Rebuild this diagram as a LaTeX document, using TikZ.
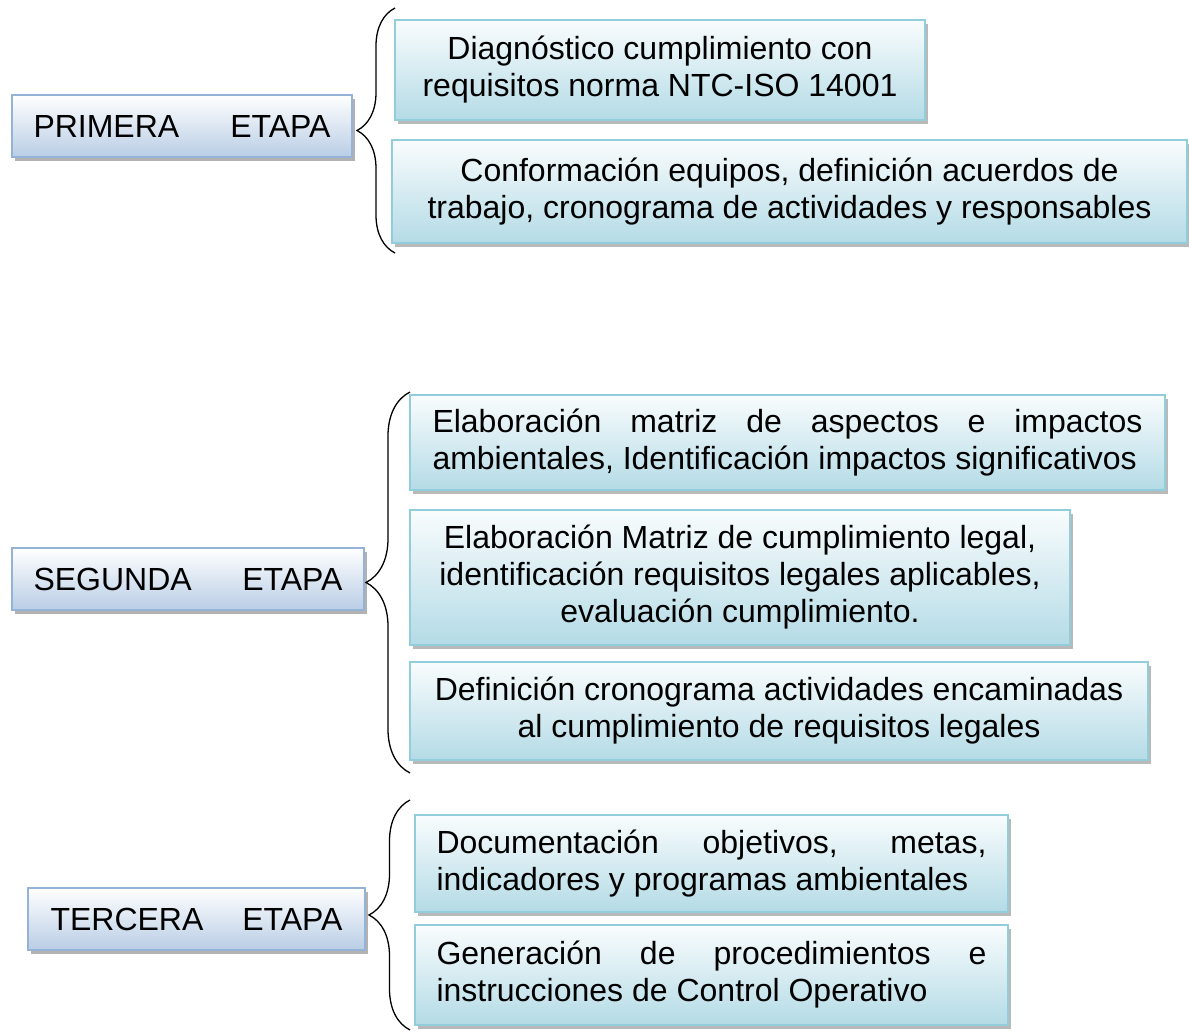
\documentclass[tikz,border=0pt]{standalone}
\usepackage{fontspec}
\setmainfont{Liberation Sans}
\usetikzlibrary{shadows,decorations.pathreplacing}
\definecolor{etapaborder}{HTML}{95B3D7}
\definecolor{etapafill}{HTML}{B9CDE5}
\definecolor{taskborder}{HTML}{92CDDC}
\definecolor{taskfill}{HTML}{B4DBE6}
\begin{document}
\begin{tikzpicture}[x=1pt,y=-1pt,
  every node/.style={font=\fontsize{32}{37}\selectfont, inner sep=0pt},
  etapabox/.style={draw=etapaborder, line width=2pt, top color=white, bottom color=etapafill,
    drop shadow={shadow xshift=3pt, shadow yshift=-4pt, fill=gray!60, opacity=1}},
  taskbox/.style={draw=taskborder, line width=2pt, top color=white!92!taskfill, bottom color=taskfill,
    drop shadow={shadow xshift=3pt, shadow yshift=-4pt, fill=gray!55, opacity=1}},
  bracestyle/.style={draw, line width=1.3pt, decorate, decoration={brace, amplitude=38pt}}
]
\useasboundingbox (0,0) rectangle (1189,1032);

% PRIMERA ETAPA
\node[etapabox, minimum width=340pt, minimum height=62pt] (p) at (182,126)
  {\makebox[297pt][s]{PRIMERA\hfill ETAPA}};
\node[taskbox, minimum width=530pt, minimum height=100pt, align=center] (a1) at (660,70)
  {Diagnóstico cumplimiento con\\requisitos norma NTC-ISO 14001};
\node[taskbox, minimum width=795pt, minimum height=103pt, align=center] (a2) at (789.5,191.5)
  {Conformación equipos, definición acuerdos de\\trabajo, cronograma de actividades y responsables};
\coordinate (pb1) at (395,253);
\coordinate (pb2) at (395,8);
\draw[bracestyle] (pb1) -- (pb2);

% SEGUNDA ETAPA
\node[etapabox, minimum width=352pt, minimum height=62pt] (s) at (188,579)
  {\makebox[309pt][s]{SEGUNDA\hfill ETAPA}};
\node[taskbox, minimum width=755pt, minimum height=95pt, align=left] (b1) at (787.5,442.5)
  {\makebox[710pt][s]{Elaboración matriz de aspectos e impactos}\\ambientales, Identificación impactos significativos};
\node[taskbox, minimum width=660pt, minimum height=135pt, align=center] (b2) at (740,577.5)
  {Elaboración Matriz de cumplimiento legal,\\identificación requisitos legales aplicables,\\evaluación cumplimiento.};
\node[taskbox, minimum width=738pt, minimum height=98pt, align=center] (b3) at (779,711)
  {Definición cronograma actividades encaminadas\\al cumplimiento de requisitos legales};
\coordinate (sb1) at (410,773);
\coordinate (sb2) at (410,392);
\draw[bracestyle, decoration={amplitude=44pt}] (sb1) -- (sb2);

% TERCERA ETAPA
\node[etapabox, minimum width=337pt, minimum height=62pt] (t) at (196.5,919)
  {\makebox[292pt][s]{TERCERA\hfill ETAPA}};
\node[taskbox, minimum width=593pt, minimum height=97pt, align=left] (c1) at (711.5,863.5)
  {\makebox[550pt][s]{Documentación objetivos, metas,}\\\makebox[550pt][l]{indicadores y programas ambientales}};
\node[taskbox, minimum width=593pt, minimum height=100pt, align=left] (c2) at (711.5,975)
  {\makebox[550pt][s]{Generación de procedimientos e}\\\makebox[550pt][l]{instrucciones de Control Operativo}};
\coordinate (tb1) at (410,1030);
\coordinate (tb2) at (410,800);
\draw[bracestyle, decoration={amplitude=41pt}] (tb1) -- (tb2);
\end{tikzpicture}
\end{document}
